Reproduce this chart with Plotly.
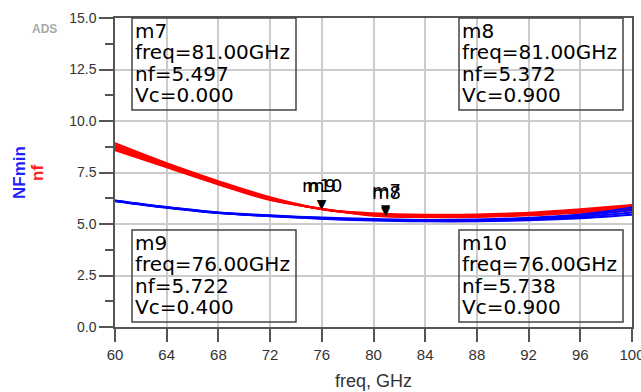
import plotly.graph_objects as go

# ---------------- data ----------------
freq = [60, 64, 68, 72, 76, 80, 84, 88, 92, 96, 100]

nf_vc0 = [8.92, 7.95, 7.08, 6.30, 5.73, 5.52, 5.45, 5.46, 5.55, 5.72, 5.92]
nf_vc2 = [8.83, 7.90, 7.04, 6.26, 5.72, 5.49, 5.42, 5.43, 5.52, 5.68, 5.86]
nf_vc4 = [8.74, 7.85, 7.00, 6.22, 5.72, 5.46, 5.39, 5.40, 5.48, 5.63, 5.78]
nf_vc6 = [8.66, 7.80, 6.96, 6.19, 5.73, 5.43, 5.36, 5.37, 5.45, 5.59, 5.72]
nf_vc9 = [8.58, 7.75, 6.92, 6.16, 5.74, 5.40, 5.33, 5.34, 5.42, 5.55, 5.65]

nfmin_a = [6.14, 5.82, 5.56, 5.42, 5.31, 5.24, 5.20, 5.22, 5.30, 5.46, 5.80]
nfmin_b = [6.13, 5.81, 5.55, 5.40, 5.29, 5.21, 5.17, 5.19, 5.26, 5.40, 5.68]
nfmin_c = [6.12, 5.80, 5.54, 5.39, 5.27, 5.19, 5.15, 5.16, 5.22, 5.34, 5.56]
nfmin_d = [6.11, 5.79, 5.53, 5.38, 5.26, 5.17, 5.13, 5.13, 5.18, 5.28, 5.45]

marker_names = ["m7", "m8", "m9", "m10"]
marker_freq = [81.0, 81.0, 76.0, 76.0]
marker_nf = [5.497, 5.372, 5.722, 5.738]
marker_vc = [0.000, 0.900, 0.400, 0.900]

x_ticks = [60, 64, 68, 72, 76, 80, 84, 88, 92, 96, 100]
y_ticks = [0.0, 2.5, 5.0, 7.5, 10.0, 12.5, 15.0]

# ---------------- figure ----------------
fig = go.Figure()

for ys in [nf_vc0, nf_vc2, nf_vc4, nf_vc6, nf_vc9]:
    fig.add_trace(go.Scatter(x=freq, y=ys, mode="lines", line=dict(color="#ff0000", width=2, shape="spline"),
                             hoverinfo="skip", showlegend=False))
for ys in [nfmin_a, nfmin_b, nfmin_c, nfmin_d]:
    fig.add_trace(go.Scatter(x=freq, y=ys, mode="lines", line=dict(color="#0000ff", width=2, shape="spline"),
                             hoverinfo="skip", showlegend=False))

FONT_TXT = "DejaVu Sans"
annotations = []
# marker triangles + labels
for name, fx, fy in zip(marker_names, marker_freq, marker_nf):
    annotations.append(dict(x=fx, y=fy, xref="x", yref="y", text="▼", showarrow=False,
                            xanchor="center", yanchor="bottom", yshift=-4,
                            font=dict(family=FONT_TXT, size=12, color="black")))
    annotations.append(dict(x=fx, y=fy, xref="x", yref="y", text=name, showarrow=False,
                            xanchor="center", yanchor="bottom", yshift=11,
                            font=dict(family=FONT_TXT, size=18, color="black")))

# marker readout boxes (pixel layout -> paper coords)
L, R, T, B = 115, 632, 18, 327
W, H = R - L, B - T
def px(x):
    return (x - L) / W
def py(y):
    return (B - y) / H

box_pos = {"m7": (132, 18), "m8": (459, 18), "m9": (132, 230), "m10": (459, 230)}
shapes = []
for name, fx, fy, vc in zip(marker_names, marker_freq, marker_nf, marker_vc):
    bx, by = box_pos[name]
    shapes.append(dict(type="rect", xref="paper", yref="paper",
                       x0=px(bx), x1=px(bx + 164), y0=py(by), y1=py(by + 92),
                       line=dict(color="#444444", width=1.5), fillcolor="rgba(255,255,255,0)"))
    lines = [name, f"freq={fx:.2f}GHz", f"nf={fy:.3f}", f"Vc={vc:.3f}"]
    for i, t in enumerate(lines):
        annotations.append(dict(x=px(bx + 1), y=py(by + 13 + 21.3 * i), xref="paper", yref="paper",
                                text=t, showarrow=False, xanchor="left", yanchor="middle",
                                font=dict(family=FONT_TXT, size=20, color="black")))

# axis titles
annotations.append(dict(x=px(20), y=py(173), xref="paper", yref="paper", text="<b>NFmin</b>", textangle=-90,
                        xanchor="center", yanchor="middle",
                        showarrow=False, font=dict(family="Liberation Sans", size=17, color="#2020ff")))
annotations.append(dict(x=px(38), y=py(173), xref="paper", yref="paper", text="<b>nf</b>", textangle=-90,
                        xanchor="center", yanchor="middle",
                        showarrow=False, font=dict(family="Liberation Sans", size=17, color="#ff2020")))
annotations.append(dict(x=0.5, y=py(381), xref="paper", yref="paper", text="freq, GHz",
                        xanchor="center", yanchor="middle",
                        showarrow=False, font=dict(family="Liberation Sans", size=18, color="#333333")))
annotations.append(dict(x=px(44), y=py(29), xref="paper", yref="paper", text="<b>ADS</b>",
                        xanchor="center", yanchor="middle",
                        showarrow=False, font=dict(family="Liberation Sans", size=12, color="#a8a8a8")))

fig.update_layout(
    width=641, height=392,
    margin=dict(l=L, r=641 - R, t=T, b=392 - B),
    paper_bgcolor="white", plot_bgcolor="white",
    showlegend=False,
    shapes=shapes, annotations=annotations,
)
fig.update_xaxes(range=[60, 100], tickvals=x_ticks, ticktext=[str(v) for v in x_ticks],
                 automargin=False, ticklabeloverflow="allow",
                 showgrid=True, gridcolor="#cccccc", gridwidth=1.5,
                 showline=True, linecolor="#555555", linewidth=1.5, mirror=True,
                 ticks="outside", ticklen=13, tickcolor="#555555", tickwidth=1.5,
                 tickfont=dict(family="Liberation Sans", size=15, color="#333333"), zeroline=False)
fig.update_yaxes(range=[0, 15], tickvals=y_ticks, ticktext=[f"{v:.1f}" for v in y_ticks],
                 automargin=False, ticklabeloverflow="allow",
                 showgrid=True, gridcolor="#cccccc", gridwidth=1.5,
                 showline=True, linecolor="#555555", linewidth=1.5, mirror=True,
                 ticks="outside", ticklen=14, tickcolor="#555555", tickwidth=1.5,
                 minor=dict(dtick=1.25, ticks="outside", ticklen=8, tickcolor="#555555", tickwidth=1.5, showgrid=False),
                 tickfont=dict(family="Liberation Sans", size=14, color="#333333"), zeroline=False)

fig.write_html("out.html", config={"displayModeBar": False},
               post_script="document.body.style.margin='0';document.body.style.overflow='hidden';")
